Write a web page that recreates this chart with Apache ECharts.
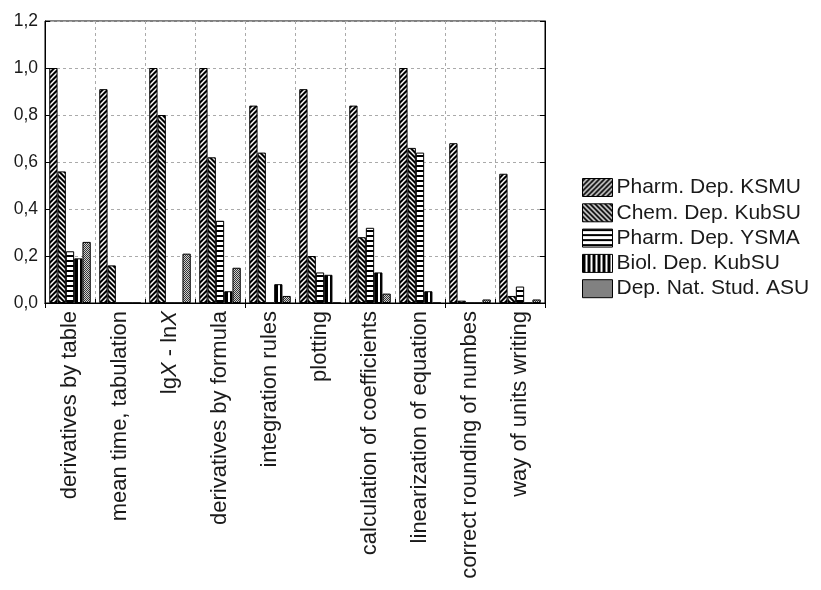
<!DOCTYPE html>
<html>
<head>
<meta charset="utf-8">
<script src="https://cdn.jsdelivr.net/npm/echarts@6/dist/echarts.min.js"></script>
<style>
  html, body { margin: 0; padding: 0; background: #fff; }
  #chart { width: 821px; height: 590px; }
</style>
</head>
<body>
<div id="chart"></div>
<script>
// Skill categories (x axis)
const categories = [
  'derivatives by table',
  'mean time, tabulation',
  'lgX - lnX',
  'derivatives by formula',
  'integration rules',
  'plotting',
  'calculation of coefficients',
  'linearization of equation',
  'correct rounding of numbes',
  'way of units writing'
];

// Series names
const seriesNames = [
  'Pharm. Dep. KSMU',
  'Chem. Dep. KubSU',
  'Pharm. Dep. YSMA',
  'Biol. Dep. KubSU',
  'Dep. Nat. Stud. ASU'
];

// Shares per department
const ksmu = [1.00, 0.91, 1.00, 1.00, 0.84, 0.91, 0.84, 1.00, 0.68, 0.55];
const chem = [0.56, 0.16, 0.80, 0.62, 0.64, 0.20, 0.28, 0.66, 0.01, 0.03];
const ysma = [0.22, 0.00, 0.00, 0.35, 0.00, 0.13, 0.32, 0.64, 0.00, 0.07];
const biol = [0.19, 0.00, 0.00, 0.05, 0.08, 0.12, 0.13, 0.05, 0.00, 0.00];
const asu  = [0.26, 0.00, 0.21, 0.15, 0.03, 0.00, 0.04, 0.00, 0.015, 0.015];

// Y tick values
const yTicks = [0, 0.2, 0.4, 0.6, 0.8, 1.0, 1.2];

// ---- fill patterns ----
function tile(w, h, draw) {
  const c = document.createElement('canvas');
  c.width = w; c.height = h;
  const g = c.getContext('2d');
  draw(g, w, h);
  return { image: c, repeat: 'repeat' };
}

// "////" hatching: white strokes on black
const patSlash = tile(5, 5, (g, w, h) => {
  g.fillStyle = '#000'; g.fillRect(0, 0, w, h);
  g.strokeStyle = '#fff'; g.lineWidth = 1.5;
  for (let c = -5; c <= 15; c += 5) {
    g.beginPath(); g.moveTo(c + 1, -1); g.lineTo(c - 6, 6); g.stroke();
  }
});

// "\\\\" hatching: white strokes on black
const patBack = tile(5, 5, (g, w, h) => {
  g.fillStyle = '#000'; g.fillRect(0, 0, w, h);
  g.strokeStyle = '#fff'; g.lineWidth = 1.5;
  for (let c = -10; c <= 10; c += 5) {
    g.beginPath(); g.moveTo(c - 1, -1); g.lineTo(c + 6, 6); g.stroke();
  }
});

// horizontal lines
const patHoriz = tile(4, 5, (g, w, h) => {
  g.fillStyle = '#fff'; g.fillRect(0, 0, w, h);
  g.fillStyle = '#000'; g.fillRect(0, 0, w, 2);
});

// vertical lines
const patVert = tile(5, 4, (g, w, h) => {
  g.fillStyle = '#fff'; g.fillRect(0, 0, w, h);
  g.fillStyle = '#000'; g.fillRect(0, 0, 3, h);
});

// fine grey stipple
const patDots = tile(2, 2, (g, w, h) => {
  g.fillStyle = '#d0d0d0'; g.fillRect(0, 0, w, h);
  g.fillStyle = '#333'; g.fillRect(0, 0, 1, 1); g.fillRect(1, 1, 1, 1);
});

const fills = [patSlash, patBack, patHoriz, patVert, patDots];
const seriesData = [ksmu, chem, ysma, biol, asu];

const FONT = 'Liberation Sans, Arial, sans-serif';
const TEXT = '#1a1a1a';
const gridLine = { show: true, lineStyle: { color: '#aaa', type: [3, 3], width: 1 } };
const frameAxis = { show: true, lineStyle: { color: '#000', width: 1 } };
const innerTick = { show: true, inside: true, length: 5, lineStyle: { color: '#000' } };

const chart = echarts.init(document.getElementById('chart'), null, { renderer: 'canvas' });

chart.setOption({
  animation: false,
  backgroundColor: '#fff',
  grid: {
    left: 45, right: 276, top: 21, bottom: 287,
    show: true, borderColor: '#000', borderWidth: 1, backgroundColor: 'transparent'
  },
  legend: {
    orient: 'vertical',
    left: 582,
    top: 177,
    padding: 0,
    itemWidth: 30,
    itemHeight: 18,
    itemGap: 4.3,
    icon: 'rect',
    selectedMode: false,
    textStyle: { fontFamily: FONT, fontSize: 21, lineHeight: 18, color: TEXT, padding: [0, 0, 0, -1] },
    data: seriesNames.map((name, i) => ({
      name,
      itemStyle: { color: fills[i], borderColor: '#000', borderWidth: 1 }
    }))
  },
  xAxis: [
    {
      type: 'category',
      data: categories,
      position: 'bottom',
      axisLine: frameAxis,
      axisTick: { show: true, inside: true, length: 4, lineStyle: { color: '#000' } },
      splitLine: gridLine,
      axisLabel: {
        interval: 0,
        rotate: 90,
        margin: 8,
        fontFamily: FONT,
        fontSize: 22,
        color: TEXT,
        formatter: v => v.replace(/X/g, '{i|X}'),
        rich: { i: { fontFamily: FONT, fontSize: 22, fontStyle: 'italic', color: TEXT } }
      }
    },
    {
      type: 'category',
      data: categories,
      position: 'top',
      axisLine: frameAxis,
      axisTick: innerTick,
      axisLabel: { show: false },
      splitLine: { show: false }
    }
  ],
  yAxis: [
    {
      type: 'value',
      min: yTicks[0],
      max: yTicks[yTicks.length - 1],
      interval: 0.2,
      position: 'left',
      axisLine: frameAxis,
      axisTick: innerTick,
      splitLine: gridLine,
      axisLabel: {
        margin: 7,
        fontFamily: FONT,
        fontSize: 17.5,
        color: TEXT,
        formatter: v => v.toFixed(1).replace('.', ',')
      }
    },
    {
      type: 'value',
      min: yTicks[0],
      max: yTicks[yTicks.length - 1],
      interval: 0.2,
      position: 'right',
      axisLine: frameAxis,
      axisTick: innerTick,
      splitLine: { show: false },
      axisLabel: { show: false }
    }
  ],
  series: seriesNames.map((name, i) => ({
    name,
    type: 'bar',
    xAxisIndex: 0,
    yAxisIndex: 0,
    data: seriesData[i],
    barGap: '0%',
    barCategoryGap: '17%',
    itemStyle: { color: fills[i], borderColor: '#000', borderWidth: 1 },
    emphasis: { disabled: true }
  }))
});
</script>
</body>
</html>
